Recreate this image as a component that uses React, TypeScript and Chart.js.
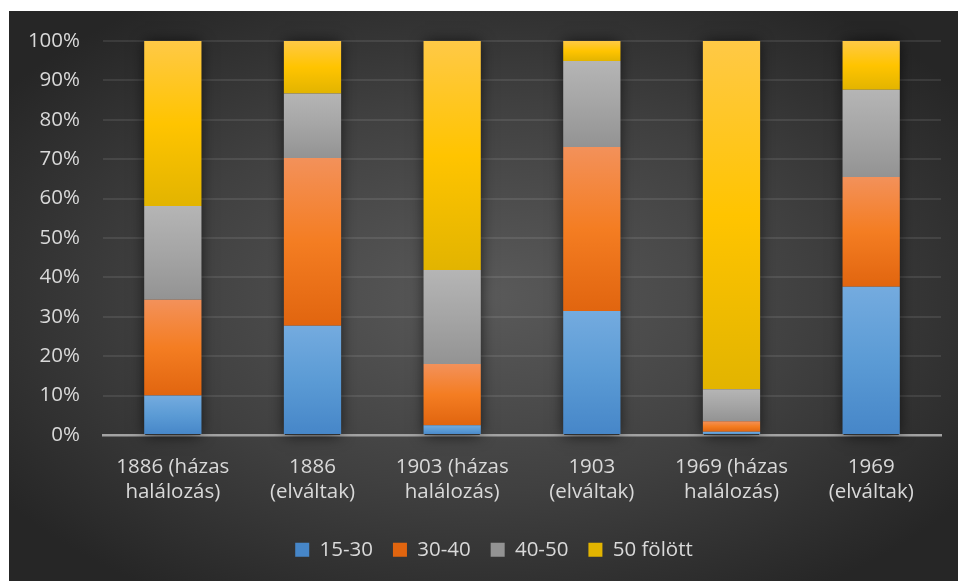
import React, { useEffect, useRef } from "react";
import { Chart, registerables } from "chart.js";

Chart.register(...registerables);

const categories: string[][] = [
  ["1886 (házas", "halálozás)"],
  ["1886", "(elváltak)"],
  ["1903 (házas", "halálozás)"],
  ["1903", "(elváltak)"],
  ["1969 (házas", "halálozás)"],
  ["1969", "(elváltak)"],
];

const seriesNames = ["15-30", "30-40", "40-50", "50 fölött"];

const s1530 = [10.0, 27.7, 2.5, 31.5, 0.8, 37.6];
const s3040 = [24.3, 42.6, 15.5, 41.6, 2.7, 27.9];
const s4050 = [23.8, 16.4, 23.9, 21.8, 8.1, 22.1];
const s50 = [41.9, 13.3, 58.1, 5.1, 88.4, 12.4];

const yTicks = [0, 10, 20, 30, 40, 50, 60, 70, 80, 90, 100];

const allSeries = [s1530, s3040, s4050, s50];

const gradStops: string[][] = [
  ["#74abdf", "#5b9bd5", "#4686c8"],
  ["#f3915a", "#f47d22", "#e1650f"],
  ["#b5b5b5", "#a5a5a5", "#939393"],
  ["#ffc946", "#ffc400", "#e2b400"],
];

const FONT = "'Open Sans', sans-serif";

export default function App() {
  const ref = useRef<HTMLCanvasElement | null>(null);

  useEffect(() => {
    if (!ref.current) return;

    const bgPlugin = {
      id: "bg",
      beforeDraw(chart: any) {
        const { ctx, width, height } = chart;
        ctx.save();
        const cx = width / 2;
        const cy = height / 2;
        ctx.translate(cx, cy);
        ctx.scale(width / height, 1);
        const r = height * 0.62;
        const g = ctx.createRadialGradient(0, 0, 0, 0, 0, r);
        g.addColorStop(0, "#5a5a5a");
        g.addColorStop(0.55, "#404040");
        g.addColorStop(1, "#262626");
        ctx.fillStyle = g;
        ctx.fillRect(-cx * height / width - 5, -cy - 5, height + 10, height + 10);
        ctx.restore();
      },
    };

    const legendShift = {
      id: "legendShift",
      afterLayout(chart: any) {
        const lg = chart.legend;
        if (lg) {
          lg.left += 19;
          lg.right += 19;
        }
      },
    };

    const shadowPlugin = {
      id: "barShadow",
      beforeDatasetsDraw(chart: any) {
        const { ctx } = chart;
        const y = chart.scales.y;
        const meta = chart.getDatasetMeta(allSeries.length - 1);
        const top = y.getPixelForValue(100);
        const bot = y.getPixelForValue(0);
        ctx.save();
        ctx.shadowColor = "rgba(0,0,0,0.7)";
        ctx.shadowBlur = 14;
        ctx.shadowOffsetX = 0;
        ctx.shadowOffsetY = 0;
        ctx.fillStyle = "#303030";
        meta.data.forEach((bar: any) => {
          const w = bar.width;
          ctx.fillRect(bar.x - w / 2 + 1, top + 1, w - 2, bot - top - 1);
        });
        ctx.restore();
      },
    };

    const makeBg = (di: number) => (c: any) => {
      const stops = gradStops[di];
      if (c.type !== "data") return stops[1];
      const chart = c.chart;
      const y = chart.scales && chart.scales.y;
      if (!y) return stops[1];
      const i = c.dataIndex;
      let base = 0;
      for (let k = 0; k < di; k++) base += allSeries[k][i];
      const top = y.getPixelForValue(base + allSeries[di][i]);
      const bot = y.getPixelForValue(base);
      if (!isFinite(top) || !isFinite(bot) || top === bot) return stops[1];
      const g = chart.ctx.createLinearGradient(0, top, 0, bot);
      g.addColorStop(0, stops[0]);
      g.addColorStop(0.5, stops[1]);
      g.addColorStop(1, stops[2]);
      return g;
    };

    const chart = new Chart(ref.current, {
      type: "bar",
      data: {
        labels: categories,
        datasets: allSeries.map((d, di) => ({
          label: seriesNames[di],
          data: d,
          backgroundColor: makeBg(di) as any,
          borderWidth: 0,
          barPercentage: 0.41,
          categoryPercentage: 1,
        })),
      },
      options: {
        responsive: false,
        animation: false,
        devicePixelRatio: 1,
        layout: { padding: { left: 0, right: 17, top: 30, bottom: 11 } },
        plugins: {
          legend: {
            position: "bottom",
            labels: {
              color: "#d9d9d9",
              font: { family: FONT, size: 20.5 },
              boxWidth: 14,
              boxHeight: 14,
              padding: 20,
            },
          },
          tooltip: { enabled: false },
        },
        scales: {
          x: {
            stacked: true,
            z: 1,
            grid: { display: false, drawTicks: false },
            border: { display: true, color: "#a3a3a3", width: 2.5 },
            ticks: {
              color: "#d9d9d9",
              font: { family: FONT, size: 20.5, lineHeight: 1.2 },
              padding: 20,
              maxRotation: 0,
              autoSkip: false,
            },
            afterFit(scale: any) {
              scale.height = 84.5;
            },
          },
          y: {
            stacked: true,
            min: 0,
            max: 100,
            afterBuildTicks(scale: any) {
              scale.ticks = yTicks.map((v) => ({ value: v }));
            },
            grid: {
              color: "rgba(255,255,255,0.09)",
              lineWidth: 2,
              drawTicks: true,
              tickLength: 18,
              tickColor: "rgba(0,0,0,0)",
            },
            border: { display: false },
            ticks: {
              color: "#d9d9d9",
              font: { family: FONT, size: 20.5 },
              padding: 5,
              callback: (v: any) => v + "%",
            },
            afterFit(scale: any) {
              scale.width = 94;
            },
          },
        },
      },
      plugins: [bgPlugin, legendShift, shadowPlugin],
    } as any);

    return () => chart.destroy();
  }, []);

  return (
    <div style={{ position: "absolute", left: 9, top: 11, width: 949, height: 570 }}>
      <canvas ref={ref} width={949} height={570} style={{ width: 949, height: 570, display: "block" }} />
    </div>
  );
}
